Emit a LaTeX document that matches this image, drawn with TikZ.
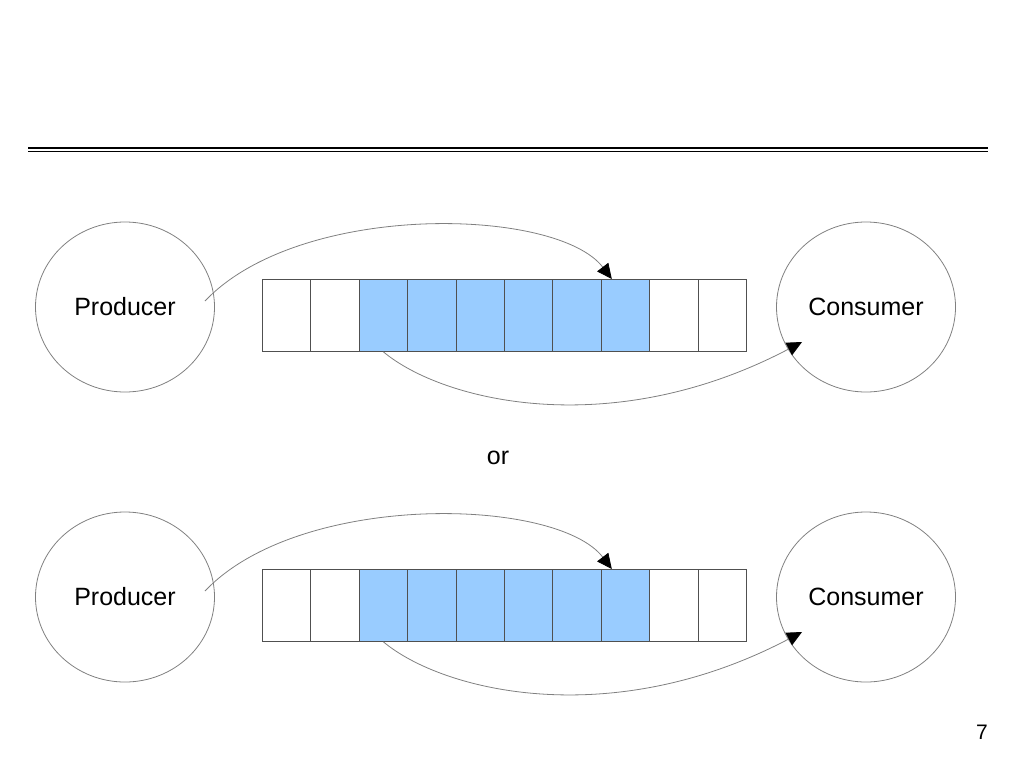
\documentclass[tikz,border=0pt]{standalone}
\usepackage{fontspec}
\setmainfont{Liberation Sans}
\usetikzlibrary{shapes.geometric,arrows.meta,calc}
\definecolor{cellblue}{HTML}{99CCFF}
\definecolor{lgray}{HTML}{808080}
\definecolor{cellline}{HTML}{505050}
\tikzset{
  proc/.style={ellipse,draw=lgray,line width=0.8pt,minimum width=179pt,minimum height=170pt,inner sep=0pt,font=\fontsize{25}{28}\selectfont},
  cell/.style={rectangle,draw=cellline,line width=0.9pt,minimum width=48.4pt,minimum height=72pt,inner sep=0pt,anchor=north west},
  full/.style={cell,fill=cellblue},
  conn/.style={draw=lgray,line width=0.8pt,arrows={-{Triangle[length=15pt,width=14pt,color=black]}}},
}
\begin{document}
\begin{tikzpicture}[x=1pt,y=-1pt]
\useasboundingbox (0,0) rectangle (1024,768);
% header double rule
\draw[black,line width=2.2pt] (28,148.3) -- (988,148.3);
\draw[black,line width=1.3pt] (28,151.6) -- (988,151.6);

\foreach \yy/\s in {279/a,569/b}{
  \pgfmathsetmacro{\cy}{\yy+28}
  \node[proc] (prod\s) at (125,\cy) {\raisebox{-2pt}{Producer}};
  \node[proc] (cons\s) at (866,\cy) {\raisebox{-2pt}{Consumer}};
  \foreach \i in {1,...,10}{
    \pgfmathsetmacro{\xx}{262+(\i-1)*48.4}
    \ifnum\i>2 \ifnum\i<9
      \node[full] (c\i\s) at (\xx,\yy) {};
    \else
      \node[cell] (c\i\s) at (\xx,\yy) {};
    \fi \else
      \node[cell] (c\i\s) at (\xx,\yy) {};
    \fi
  }
  \coordinate (st\s) at ($(prod\s.center)+(80,-6)$);
  \coordinate (tp\s) at ($(c8\s.north west)+(11,0)$);
  \coordinate (en\s) at ($(cons\s.center)+(-64,35)$);
  \draw[conn] (st\s) .. controls ($(st\s)+(95,-100)$) and ($(tp\s)+(-55,-72)$) .. (tp\s);
  \draw[conn] (c3\s.south) .. controls ($(c3\s.south)+(60,50)$) and ($(en\s)+(-190,100)$) .. (en\s);
}
\node[font=\fontsize{25}{28}\selectfont] (or) at (498,458) {or};
\node[font=\fontsize{21}{24}\selectfont] (pg) at (982,732) {7};
\end{tikzpicture}
\end{document}
